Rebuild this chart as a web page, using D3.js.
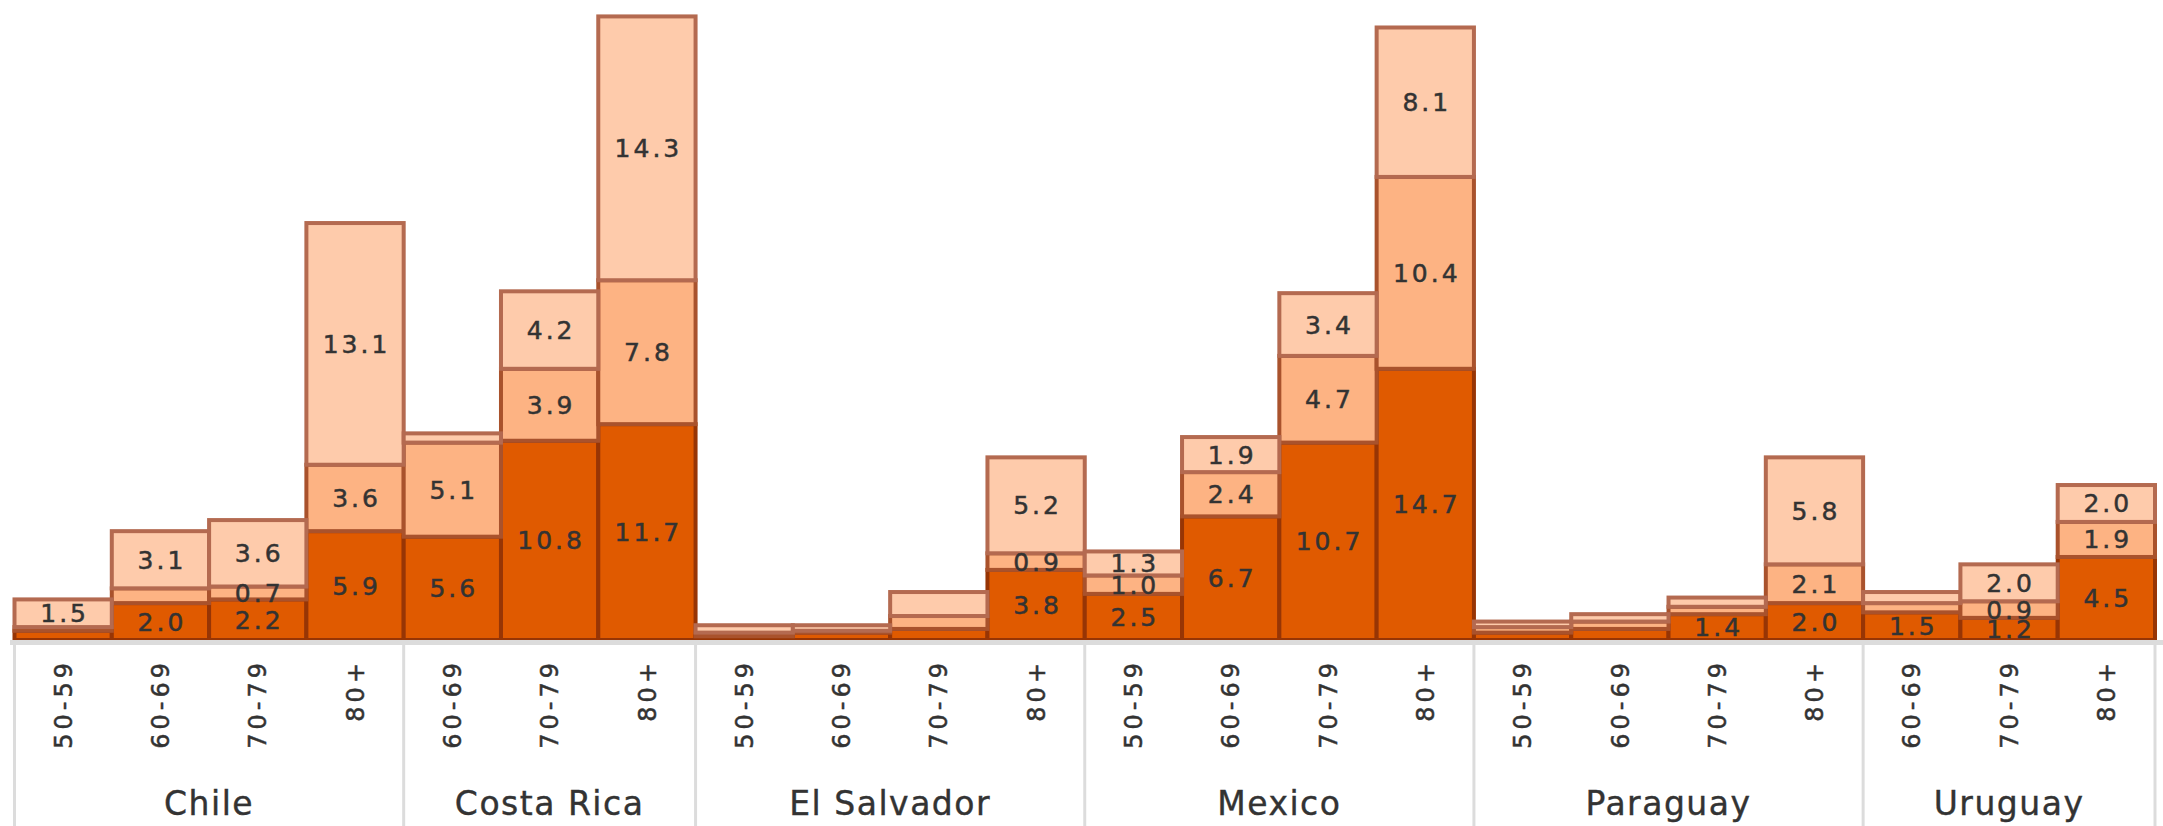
<!DOCTYPE html>
<html>
<head>
<meta charset="utf-8">
<script src="https://cdn.jsdelivr.net/npm/d3@7"></script>
<style>
  html, body { margin: 0; padding: 0; background: #fff; }
  svg { display: block; }
</style>
</head>
<body>
<svg id="chart" width="2163" height="826"></svg>
<script>
// ---- data ----
const countries = ["Chile", "Costa Rica", "El Salvador", "Mexico", "Paraguay", "Uruguay"];
const barCountry = ["Chile","Chile","Chile","Chile",
  "Costa Rica","Costa Rica","Costa Rica",
  "El Salvador","El Salvador","El Salvador","El Salvador",
  "Mexico","Mexico","Mexico","Mexico",
  "Paraguay","Paraguay","Paraguay","Paraguay",
  "Uruguay","Uruguay","Uruguay"];
const barAge = ["50-59","60-69","70-79","80+",
  "60-69","70-79","80+",
  "50-59","60-69","70-79","80+",
  "50-59","60-69","70-79","80+",
  "50-59","60-69","70-79","80+",
  "60-69","70-79","80+"];
const seriesDark   = [0.5, 2.0, 2.2, 5.9,  5.6, 10.8, 11.7,  0.2, 0.4, 0.6, 3.8,  2.5, 6.7, 10.7, 14.7,  0.4, 0.6, 1.4, 2.0,  1.5, 1.2, 4.5];
const seriesMedium = [0.2, 0.8, 0.7, 3.6,  5.1, 3.9, 7.8,   0.2, 0.1, 0.7, 0.9,  1.0, 2.4, 4.7, 10.4,   0.3, 0.4, 0.4, 2.1,  0.5, 0.9, 1.9];
const seriesLight  = [1.5, 3.1, 3.6, 13.1, 0.5, 4.2, 14.3,  0.4, 0.3, 1.3, 5.2,  1.3, 1.9, 3.4, 8.1,    0.3, 0.4, 0.5, 5.8,  0.6, 2.0, 2.0];
// which value labels are displayed (1 = shown)
const labelDark   = [0,1,1,1, 1,1,1, 0,0,0,1, 1,1,1,1, 0,0,1,1, 1,1,1];
const labelMedium = [0,0,1,1, 1,1,1, 0,0,0,1, 1,1,1,1, 0,0,0,1, 0,1,1];
const labelLight  = [1,1,1,1, 0,1,1, 0,0,0,1, 1,1,1,1, 0,0,0,1, 0,1,1];

const seriesNames = ["dark", "medium", "light"];
const seriesValues = [seriesDark, seriesMedium, seriesLight];
const seriesLabels = [labelDark, labelMedium, labelLight];
const seriesFill = ["#e05a00", "#fdb383", "#fecbab"];
const seriesStroke = ["#973505", "#a9522c", "#b46a50"];

// ---- layout ----
const svg = d3.select("#chart");
const baseY = 640;
const x = d3.scaleBand()
  .domain(barAge.map((a, i) => i))
  .range([14.5, 2155])
  .padding(0);
const y = d3.scaleLinear().domain([0, 34.69]).range([baseY, 0]);

const rows = barAge.map((a, i) => ({ i, dark: seriesDark[i], medium: seriesMedium[i], light: seriesLight[i] }));
const stack = d3.stack().keys(seriesNames)(rows);

const gBars = svg.append("g");
stack.forEach((layer, si) => {
  gBars.append("g")
    .selectAll("rect")
    .data(layer)
    .join("rect")
    .attr("x", d => x(d.data.i))
    .attr("width", x.bandwidth())
    .attr("y", d => y(d[1]))
    .attr("height", d => y(d[0]) - y(d[1]))
    .attr("fill", seriesFill[si])
    .attr("stroke", seriesStroke[si])
    .attr("stroke-width", 4);
});

// value labels
const gLabels = svg.append("g")
  .attr("font-family", "DejaVu Sans, sans-serif")
  .attr("font-size", 25)
  .attr("letter-spacing", "3px")
  .attr("fill", "#333")
  .attr("stroke", "#333")
  .attr("stroke-width", 0.5);
stack.forEach((layer, si) => {
  gLabels.append("g")
    .selectAll("text")
    .data(layer.filter(d => seriesLabels[si][d.data.i]))
    .join("text")
    .attr("x", d => x(d.data.i) + x.bandwidth() / 2 + 1.5)
    .attr("y", d => (y(d[0]) + y(d[1])) / 2)
    .attr("text-anchor", "middle")
    .attr("dy", "0.36em")
    .text(d => seriesValues[si][d.data.i].toFixed(1));
});

// axis line
svg.append("line")
  .attr("x1", 10).attr("x2", 2163)
  .attr("y1", baseY + 2.5).attr("y2", baseY + 2.5)
  .attr("stroke", "#dcdcdc").attr("stroke-width", 5);

// group separators
const groupStarts = [];
const groupEnds = [];
countries.forEach(c => {
  const idx = barCountry.map((b, i) => b === c ? i : -1).filter(i => i >= 0);
  groupStarts.push(x(idx[0]));
  groupEnds.push(x(idx[idx.length - 1]) + x.bandwidth());
});
const sepX = [groupStarts[0]].concat(groupEnds);
svg.append("g").selectAll("line")
  .data(sepX)
  .join("line")
  .attr("x1", d => d).attr("x2", d => d)
  .attr("y1", baseY + 4).attr("y2", 826)
  .attr("stroke", "#dcdcdc").attr("stroke-width", 3);

// age tick labels (rotated, top-aligned at y = 659)
const tickTop = 659;
const ticks = svg.append("g")
  .attr("font-family", "DejaVu Sans, sans-serif")
  .attr("font-size", 24)
  .attr("letter-spacing", "4px")
  .attr("fill", "#333")
  .attr("stroke", "#333")
  .attr("stroke-width", 0.5)
  .selectAll("text")
  .data(barAge)
  .join("text")
  .attr("text-anchor", "start")
  .attr("dy", "0.36em")
  .text(d => d);
ticks.each(function(d, i) {
  const len = this.getBBox().width;
  d3.select(this).attr("transform",
    `translate(${x(i) + x.bandwidth() / 2},${tickTop + len}) rotate(-90)`);
});

// country labels
svg.append("g")
  .attr("font-family", "DejaVu Sans, sans-serif")
  .attr("font-size", 33)
  .attr("letter-spacing", "1.5px")
  .attr("fill", "#333")
  .attr("stroke", "#333")
  .attr("stroke-width", 0.4)
  .selectAll("text")
  .data(countries)
  .join("text")
  .attr("x", (d, i) => (groupStarts[i] + groupEnds[i]) / 2)
  .attr("y", 815)
  .attr("text-anchor", "middle")
  .text(d => d);
</script>
</body>
</html>
